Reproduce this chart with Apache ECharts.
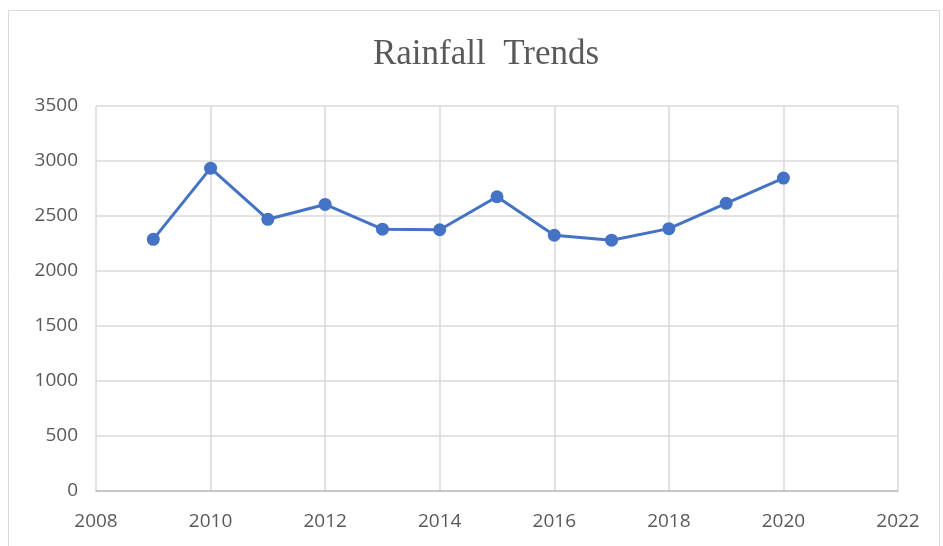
<!DOCTYPE html>
<html>
<head>
<meta charset="utf-8">
<script src="https://cdn.jsdelivr.net/npm/echarts@6/dist/echarts.min.js"></script>
<style>
    html, body { margin: 0; padding: 0; background: #ffffff; }
    #chart { width: 943px; height: 546px; }
</style>
</head>
<body>
<div id="chart"></div>
<script>
const years = [2009, 2010, 2011, 2012, 2013, 2014, 2015, 2016, 2017, 2018, 2019, 2020];
const rainfall = [2288, 2935, 2470, 2605, 2380, 2375, 2675, 2325, 2280, 2385, 2615, 2845];

const AXIS_TEXT = "#595959";
const GRID_LINE = "#d9d9d9";

const chart = echarts.init(document.getElementById("chart"));

chart.setOption({
    backgroundColor: "#ffffff",
    animation: false,
    graphic: [
        {
            type: "rect",
            shape: { x: 8.5, y: 10.5, width: 931, height: 560 },
            style: { fill: "none", stroke: "#d9d9d9", lineWidth: 1 },
        },
    ],
    title: {
        text: "Rainfall  Trends",
        left: 481,
        top: 32,
        textAlign: "center",
        textStyle: {
            fontFamily: "Liberation Serif",
            fontWeight: "normal",
            fontSize: 35,
            color: AXIS_TEXT,
        },
    },
    grid: {
        left: 96,
        right: 45,
        top: 106,
        bottom: 55,
    },
    xAxis: {
        type: "value",
        min: 2008,
        max: 2022,
        interval: 2,
        axisLine: { show: true, lineStyle: { color: "#bfbfbf", width: 1.5 } },
        axisTick: { show: false },
        splitLine: { show: true, lineStyle: { color: GRID_LINE, width: 1.5 } },
        axisLabel: {
            color: AXIS_TEXT,
            fontFamily: "Open Sans",
            fontSize: 19,
            margin: 21,
            formatter: (v) => String(v),
        },
    },
    yAxis: {
        type: "value",
        min: 0,
        max: 3500,
        interval: 500,
        axisLine: { show: false },
        axisTick: { show: false },
        splitLine: { show: true, lineStyle: { color: GRID_LINE, width: 1.5 } },
        axisLabel: {
            color: AXIS_TEXT,
            fontFamily: "Open Sans",
            fontSize: 19,
            margin: 18,
            formatter: (v) => String(v),
        },
    },
    series: [
        {
            name: "Rainfall",
            type: "line",
            data: years.map((year, i) => [year, rainfall[i]]),
            symbol: "circle",
            symbolSize: 13,
            lineStyle: { color: "#4472c4", width: 3 },
            itemStyle: { color: "#4472c4" },
        },
    ],
});
</script>
</body>
</html>
